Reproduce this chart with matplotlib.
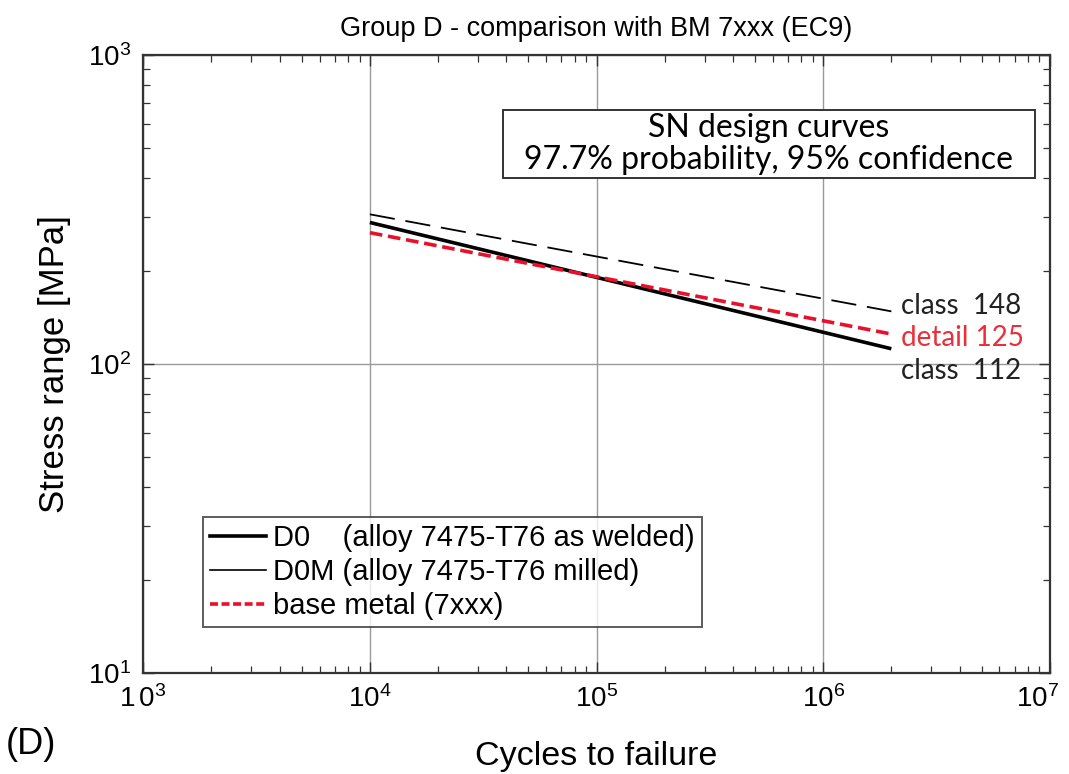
import matplotlib
matplotlib.use("Agg")
import matplotlib.pyplot as plt
import matplotlib.transforms as mtransforms
from matplotlib.lines import Line2D
from matplotlib.patches import Rectangle
from matplotlib.ticker import FixedLocator, FixedFormatter, LogLocator, NullFormatter

plt.rcParams["font.family"] = ["Liberation Sans", "DejaVu Sans"]

# S-N design curves, end points at 1e4 and 2e6 cycles
cycles = [1e4, 2e6]
d0 = [287, 112]        # D0, as welded
d0m = [305, 148]       # D0M, milled
base_metal = [266, 125]  # EC9 7xxx base metal

curve_labels = ["class  148", "detail 125", "class  112"]
curve_label_y = [154, 121, 95]
curve_label_colors = ["#222222", "#e8303c", "#222222"]

x_ticks = [1e3, 1e4, 1e5, 1e6, 1e7]
x_ticklabels = ["$\\mathregular{1\\,0^{3}}$", "$\\mathregular{10^{4}}$", "$\\mathregular{10^{5}}$",
                "$\\mathregular{10^{6}}$", "$\\mathregular{10^{7}}$"]
y_ticks = [1e1, 1e2, 1e3]
y_ticklabels = ["$\\mathregular{10^{1}}$", "$\\mathregular{10^{2}}$", "$\\mathregular{10^{3}}$"]

red = "#e8102a"

fig = plt.figure(figsize=(10.69, 7.74), dpi=100)
ax = fig.add_axes([0.134, 0.1305, 0.848, 0.7985])

ax.set_xscale("log")
ax.set_yscale("log")
ax.set_xlim(1e3, 1e7)
ax.set_ylim(1e1, 1e3)

# grid at decades only
ax.grid(True, which="major", color="#9a9a9a", linewidth=1.0)
ax.set_axisbelow(True)

ax.plot(cycles, d0, color="black", linewidth=2.6, solid_capstyle="butt", zorder=3)
ax.plot(cycles, d0m, color="black", linewidth=1.3, dashes=(14, 6), zorder=3)
ax.plot(cycles, base_metal, color=red, linewidth=2.6, dashes=(3.5, 1.6), zorder=4)

for txt, yv, col in zip(curve_labels, curve_label_y, curve_label_colors):
    ax.text(2.2e6, yv, txt, color=col, fontsize=20, family=["Lato", "DejaVu Sans"],
            ha="left", va="center")

# ticks
ax.xaxis.set_major_locator(FixedLocator(x_ticks))
ax.xaxis.set_major_formatter(FixedFormatter(x_ticklabels))
ax.yaxis.set_major_locator(FixedLocator(y_ticks))
ax.yaxis.set_major_formatter(FixedFormatter(y_ticklabels))
ax.xaxis.set_minor_locator(LogLocator(base=10, subs=range(2, 10)))
ax.yaxis.set_minor_locator(LogLocator(base=10, subs=range(2, 10)))
ax.xaxis.set_minor_formatter(NullFormatter())
ax.yaxis.set_minor_formatter(NullFormatter())
ax.tick_params(which="both", direction="in", top=True, right=True, color="#333333")
ax.tick_params(which="major", length=8, width=1.0, labelsize=20, pad=9)
ax.tick_params(which="minor", length=5, width=0.9)
for s in ax.spines.values():
    s.set_linewidth(1.6)
    s.set_color("#333333")

# keep the last x label inside the figure
last = ax.get_xticklabels()[-1]
last.set_transform(last.get_transform() + mtransforms.ScaledTranslation(-0.12, 0, fig.dpi_scale_trans))

ax.set_xlabel("Cycles to failure", fontsize=24.5, labelpad=20)
ax.set_ylabel("Stress range [MPa]", fontsize=25, labelpad=12)
ax.set_title("Group D - comparison with BM 7xxx (EC9)", fontsize=19.5, pad=14)

# annotation box
ax.add_patch(Rectangle((0.397, 0.801), 0.5866, 0.110, transform=ax.transAxes,
                       facecolor="white", edgecolor="#333333", linewidth=1.4, zorder=5))
ax.text(0.690, 0.856, "SN design curves\n97.7% probability, 95% confidence",
        transform=ax.transAxes, ha="center", va="center", fontsize=23,
        family=["Lato", "DejaVu Sans"], linespacing=1.1, zorder=6)

handles = [
    Line2D([], [], color="black", linewidth=2.6),
    Line2D([], [], color="black", linewidth=1.2),
    Line2D([], [], color=red, linewidth=2.6, dashes=(2.2, 1.0)),
]
names = ["D0    (alloy 7475-T76 as welded)", "D0M (alloy 7475-T76 milled)", "base metal (7xxx)"]
leg = ax.legend(handles, names, loc="lower left", bbox_to_anchor=(0.066, 0.074),
                borderaxespad=0, fontsize=21, frameon=True, fancybox=False,
                handlelength=1.9, handletextpad=0.25, labelspacing=0.2,
                borderpad=0.25)
leg.get_frame().set_edgecolor("#333333")
leg.get_frame().set_linewidth(1.4)

fig.text(0.005, 0.038, "(D)", fontsize=26, ha="left", va="center")

fig.savefig("out.png", dpi=100)
